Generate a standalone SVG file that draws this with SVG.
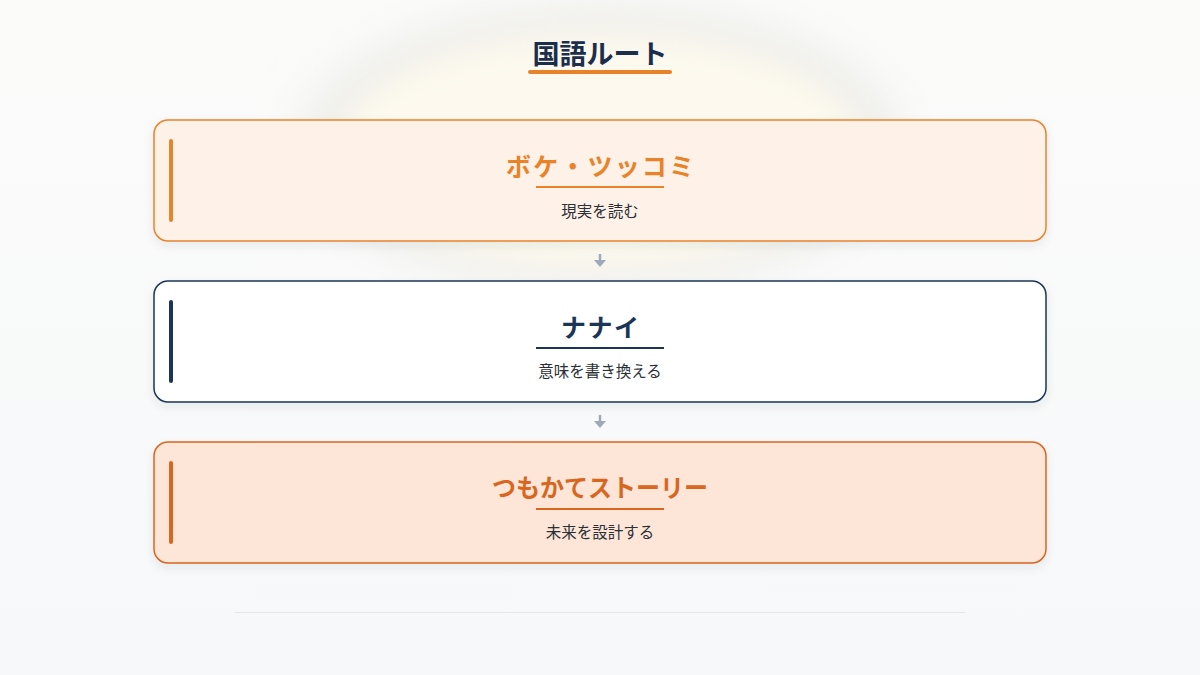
<svg xmlns="http://www.w3.org/2000/svg" width="1200" height="675" viewBox="0 0 1200 675">
<defs>
<linearGradient id="bg" x1="0" y1="0" x2="0" y2="1">
<stop offset="0" stop-color="#FBFBFA"/>
<stop offset="1" stop-color="#F7F8FA"/>
</linearGradient>
<filter id="sh" x="-10%" y="-20%" width="120%" height="150%">
<feDropShadow dx="0" dy="4" stdDeviation="5" flood-color="#1B2E4B" flood-opacity="0.08"/>
</filter>
<filter id="blur" x="-30%" y="-60%" width="160%" height="220%">
<feGaussianBlur stdDeviation="22"/>
</filter>
<filter id="blur2" x="-30%" y="-60%" width="160%" height="220%">
<feGaussianBlur stdDeviation="16"/>
</filter>
</defs>
<style>
.title{font-family:"Noto Sans CJK JP","Noto Sans",sans-serif;font-weight:700;text-anchor:middle}
.sub{font-family:"Noto Sans CJK JP","Noto Sans",sans-serif;font-size:15.5px;fill:#2B2F36;text-anchor:middle}
.shaft{stroke:#9DAAB9;stroke-width:2.5;fill:none}
.head{fill:#9DAAB9}
</style>
<rect width="1200" height="675" fill="url(#bg)"/>
<ellipse cx="600" cy="145" rx="300" ry="140" fill="#EDEDE9" filter="url(#blur)"/>
<ellipse cx="600" cy="150" rx="265" ry="118" fill="#FDF9EE" filter="url(#blur2)"/>

<g id="header">
<text class="title" x="600" y="64" font-size="27" fill="#1B2E4B">国語ルート</text>
<line x1="530" y1="72" x2="670" y2="72" stroke="#E8832A" stroke-width="4" stroke-linecap="round"/>
</g>

<g id="connectors">
<line class="shaft" x1="600" y1="254" x2="600" y2="261"/>
<path class="head" d="M594,260 L606,260 L600,267 z"/>
<line class="shaft" x1="600" y1="415" x2="600" y2="422"/>
<path class="head" d="M594,421 L606,421 L600,428 z"/>
</g>

<g id="node-boke">
<rect x="154" y="120" width="892" height="121" rx="14" fill="#FEF1E8" stroke="#E8832A" stroke-width="1.5" filter="url(#sh)"/>
<line x1="171" y1="141" x2="171" y2="220" stroke="#E8832A" stroke-width="4" stroke-linecap="round"/>
<text class="title" x="600" y="176" font-size="25" fill="#E8832A" textLength="188" lengthAdjust="spacing">ボケ・ツッコミ</text>
<line x1="536" y1="187" x2="664" y2="187" stroke="#E8832A" stroke-width="2"/>
<text class="sub" x="600" y="217">現実を読む</text>
</g>

<g id="node-nanai">
<rect x="154" y="281" width="892" height="121" rx="14" fill="#FFFFFF" stroke="#1B3557" stroke-width="1.5" filter="url(#sh)"/>
<line x1="171" y1="302" x2="171" y2="381" stroke="#1B3557" stroke-width="4" stroke-linecap="round"/>
<text class="title" x="600" y="337" font-size="25" fill="#1B3557" textLength="78" lengthAdjust="spacing">ナナイ</text>
<line x1="536" y1="348" x2="664" y2="348" stroke="#1B3557" stroke-width="2"/>
<text class="sub" x="600" y="377">意味を書き換える</text>
</g>

<g id="node-tsumokate">
<rect x="154" y="442" width="892" height="121" rx="14" fill="#FDE6D8" stroke="#D9661F" stroke-width="1.5" filter="url(#sh)"/>
<line x1="171" y1="463" x2="171" y2="542" stroke="#D9661F" stroke-width="4" stroke-linecap="round"/>
<text class="title" x="600" y="497" font-size="25" fill="#D9661F" textLength="216" lengthAdjust="spacingAndGlyphs">つもかてストーリー</text>
<line x1="536" y1="509" x2="664" y2="509" stroke="#D9661F" stroke-width="2"/>
<text class="sub" x="600" y="538">未来を設計する</text>
</g>

<line x1="234" y1="612.5" x2="966" y2="612.5" stroke="#E6E8EB" stroke-width="1"/>
</svg>
